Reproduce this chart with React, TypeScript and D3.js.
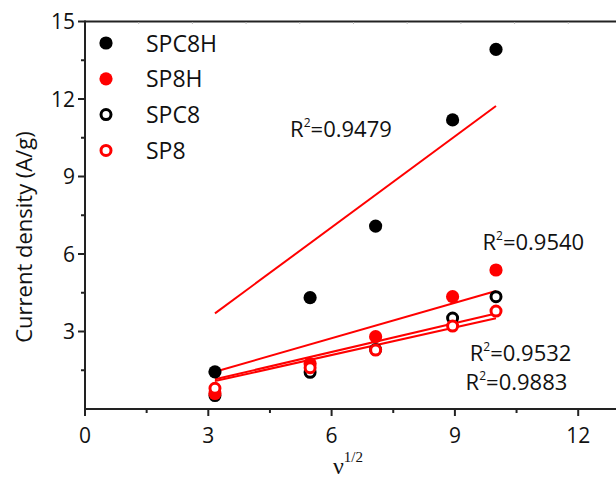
import React from 'react';
import * as d3 from 'd3';

// sqrt of scan rate
const xVals = [3.162, 5.477, 7.071, 8.944, 10];

const spc8h = [1.44, 4.31, 7.08, 11.19, 13.92];
const sp8h = [0.6, 1.75, 2.8, 4.35, 5.38];
const spc8 = [0.52, 1.42, 2.3, 3.52, 4.35];
const sp8 = [0.8, 1.6, 2.28, 3.21, 3.79];

// fit lines: value at first x and at last x
const fitNames = ['SPC8H', 'SP8H', 'SPC8', 'SP8'];
const fitStart = [3.7, 1.44, 1.15, 1.08];
const fitEnd = [11.73, 4.57, 3.7, 3.51];

const r2Labels = ['0.9479', '0.9540', '0.9532', '0.9883'];
const r2X = [4.99, 9.67, 9.36, 9.26];
const r2Y = [10.53, 6.15, 1.87, 0.74];

const xTicks = [0, 3, 6, 9, 12];
const yTicks = [3, 6, 9, 12, 15];

const legendNames = ['SPC8H', 'SP8H', 'SPC8', 'SP8'];

const W = 616;
const H = 481;
const font = "'Open Sans', 'Noto Sans', sans-serif";

export default function App() {
  const x = d3.scaleLinear().domain([0, 13]).range([85, 85 + 13 * 41.1]);
  const y = d3.scaleLinear().domain([0, 15]).range([409, 21.5]);

  const series = [
    { name: 'SPC8H', vals: spc8h, color: '#000', filled: true },
    { name: 'SPC8', vals: spc8, color: '#000', filled: false },
    { name: 'SP8H', vals: sp8h, color: '#ff0000', filled: true },
    { name: 'SP8', vals: sp8, color: '#ff0000', filled: false },
  ];
  const styleOf = (n: string) => series.find(s => s.name === n)!;

  const line = d3.line<[number, number]>().x(d => x(d[0])).y(d => y(d[1]));
  const x0 = xVals[0];
  const x1 = xVals[xVals.length - 1];

  const xMinor = d3.range(1.5, 13, 3);
  const yMinor = d3.range(1.5, 15, 3);
  const topTicks = d3.range(1.3065, 13, 1.3065);

  const marker = (s: any, cx: number, cy: number, key: any) =>
    s.filled ? (
      <circle key={key} cx={cx} cy={cy} r={6.6} fill={s.color} />
    ) : (
      <circle key={key} cx={cx} cy={cy} r={5} fill="#fff" stroke={s.color} strokeWidth={3} />
    );

  return (
    <svg width={W} height={H} style={{ position: 'absolute', left: 0, top: 0, background: '#fff' }}
      fontFamily={font}>
      {/* axes */}
      <line x1={85} x2={W} y1={21.5} y2={21.5} stroke="#222" strokeWidth={2} />
      {topTicks.map((t, i) => (
        <line key={'tt' + i} x1={x(t)} x2={x(t)} y1={22} y2={24} stroke="#bbb" strokeWidth={1} />
      ))}
      <line x1={85} x2={85} y1={20.5} y2={410} stroke="#222" strokeWidth={2} />
      <line x1={84} x2={W} y1={409} y2={409} stroke="#222" strokeWidth={2} />
      {xTicks.map(t => (
        <g key={'xt' + t}>
          <line x1={x(t)} x2={x(t)} y1={409} y2={416} stroke="#222" strokeWidth={2} />
          <text x={x(t)} y={443} textAnchor="middle" fontSize={21} fill="#111">{t}</text>
        </g>
      ))}
      {xMinor.map(t => (
        <line key={'xm' + t} x1={x(t)} x2={x(t)} y1={409} y2={413} stroke="#222" strokeWidth={2} />
      ))}
      {yTicks.map(t => (
        <g key={'yt' + t}>
          <line x1={78} x2={85} y1={y(t)} y2={y(t)} stroke="#222" strokeWidth={2} />
          <text x={75} y={y(t) + 7.5} textAnchor="end" fontSize={21} fill="#111">{t}</text>
        </g>
      ))}
      {yMinor.map(t => (
        <line key={'ym' + t} x1={81} x2={85} y1={y(t)} y2={y(t)} stroke="#222" strokeWidth={2} />
      ))}

      {/* axis titles */}
      <text transform="translate(32,237) rotate(-90)" textAnchor="middle" fontSize={22} fill="#111">
        Current density (A/g)
      </text>
      <text x={333} y={474} fontFamily="'Liberation Serif', 'DejaVu Serif', serif" fontSize={24} fill="#111">
        ν<tspan dy={-12} fontSize={15}>1/2</tspan>
      </text>

      {/* fit lines */}
      {fitNames.map((n, i) => (
        <path key={'fit' + n} d={line([[x0, fitStart[i]], [x1, fitEnd[i]]])!}
          stroke="#ff0000" strokeWidth={2} fill="none" />
      ))}

      {/* points */}
      {series.map(s => (
        <g key={s.name}>
          {s.vals.map((v, i) => marker(s, x(xVals[i]), y(v), s.name + i))}
        </g>
      ))}

      {/* R2 labels */}
      {r2Labels.map((l, i) => (
        <text key={'r2' + i} x={x(r2X[i])} y={y(r2Y[i])} fontSize={22} fill="#111">
          R<tspan dy={-10} fontSize={12}>2</tspan><tspan dy={10}>={l}</tspan>
        </text>
      ))}

      {/* legend */}
      {legendNames.map((n, i) => (
        <g key={'lg' + n}>
          {marker(styleOf(n), 106, 43 + i * 35.8, 'lm' + n)}
          <text x={146} y={43 + i * 35.8 + 8.5} fontSize={23} fill="#111">{n}</text>
        </g>
      ))}
    </svg>
  );
}
